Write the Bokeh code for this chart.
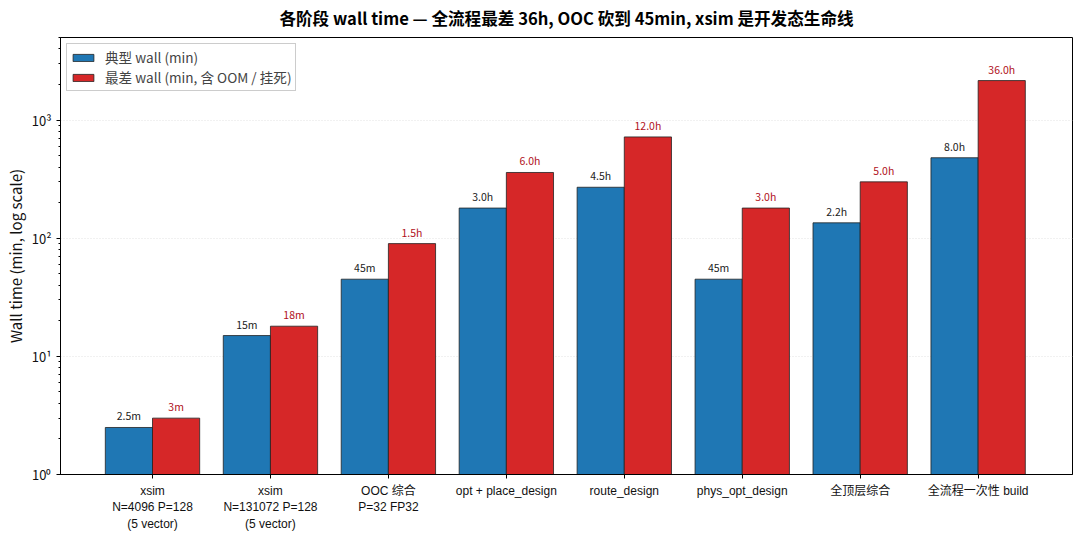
from bokeh.plotting import figure
from bokeh.models import ColumnDataSource, Range1d, FixedTicker, LogTicker, Legend, LegendItem
from bokeh.core.properties import value
from bokeh.embed import file_html
from bokeh.resources import INLINE

categories = ["xsim\nN=4096 P=128\n(5 vector)", "xsim\nN=131072 P=128\n(5 vector)",
              "OOC 综合\nP=32 FP32", "opt + place_design", "route_design",
              "phys_opt_design", "全顶层综合", "全流程一次性 build"]
typical = [2.5, 15, 45, 180, 270, 45, 135, 480]
worst = [3, 18, 90, 360, 720, 180, 300, 2160]
typical_labels = ["2.5m", "15m", "45m", "3.0h", "4.5h", "45m", "2.2h", "8.0h"]
worst_labels = ["3m", "18m", "1.5h", "6.0h", "12.0h", "3.0h", "5.0h", "36.0h"]

FONT = "Noto Sans CJK SC"
XFONT = "Liberation Sans, Noto Sans CJK SC"
n = len(categories)
xs = list(range(n))
w = 0.4

src_t = ColumnDataSource(dict(x=[i - w / 2 for i in xs], top=typical, lab=typical_labels))
src_w = ColumnDataSource(dict(x=[i + w / 2 for i in xs], top=worst, lab=worst_labels))

p = figure(width=1080, height=535, y_axis_type="log", output_backend="svg",
           toolbar_location=None, x_range=Range1d(-0.78, 7.8), y_range=Range1d(1, 5000),
           min_border_left=60, min_border_right=8, min_border_top=36, min_border_bottom=61)
p.title.text = "各阶段 wall time — 全流程最差 36h, OOC 砍到 45min, xsim 是开发态生命线"
p.title.align = "center"
p.title.text_font = FONT
p.title.text_font_size = "16.6px"
p.title.text_font_style = "bold"
p.title.text_color = "black"
p.title.standoff = 11
p.title.vertical_align = "top"

r1 = p.vbar(x="x", top="top", bottom=1, width=w, source=src_t, fill_color="#1f77b4",
            line_color="#222222", line_width=0.8)
r2 = p.vbar(x="x", top="top", bottom=1, width=w, source=src_w, fill_color="#d62728",
            line_color="#222222", line_width=0.8)

p.text(x="x", y="top", text="lab", source=src_t, text_align="center", text_baseline="bottom",
       y_offset=-4, text_font=value(FONT), text_font_size="10.5px", text_color="#222222")
p.text(x="x", y="top", text="lab", source=src_w, text_align="center", text_baseline="bottom",
       y_offset=-4, text_font=value(FONT), text_font_size="10.5px", text_color="#b0101a")

legend = Legend(items=[LegendItem(label="典型 wall (min)", renderers=[r1]),
                       LegendItem(label="最差 wall (min, 含 OOM / 挂死)", renderers=[r2])],
                location="top_left")
legend.label_text_font = FONT
legend.label_text_font_size = "13.6px"
legend.glyph_width = 26
legend.glyph_height = 9
legend.spacing = 0
legend.padding = 3
legend.margin = 6
legend.label_height = 14
legend.label_standoff = 9
legend.border_line_color = "#cccccc"
legend.border_line_alpha = 1
legend.background_fill_alpha = 0.9
p.add_layout(legend)

p.xaxis.ticker = FixedTicker(ticks=xs)
p.xaxis.major_label_overrides = {i: c for i, c in enumerate(categories)}
p.xaxis.major_label_text_font = XFONT
p.xaxis.major_label_text_font_size = "12px"
p.xaxis.major_label_text_color = "#111111"
p.xaxis.minor_tick_line_color = None
p.xaxis.major_tick_out = 4
p.xaxis.major_tick_in = 0
p.xaxis.axis_line_color = "black"

p.yaxis.ticker = LogTicker(desired_num_ticks=4, num_minor_ticks=10)
p.yaxis.major_label_overrides = {1: "10⁰", 10: "10¹", 100: "10²", 1000: "10³"}
p.yaxis.major_label_text_font = FONT
p.yaxis.major_label_text_font_size = "13px"
p.yaxis.major_label_text_color = "#111111"
p.yaxis.axis_label = "Wall time (min, log scale)"
p.yaxis.axis_label_text_font = FONT
p.yaxis.axis_label_text_font_size = "15px"
p.yaxis.axis_label_text_font_style = "normal"
p.yaxis.axis_label_text_color = "#111111"
p.yaxis.axis_label_standoff = 3
p.yaxis.major_tick_out = 4
p.yaxis.major_tick_in = 0
p.yaxis.minor_tick_out = 2
p.yaxis.minor_tick_in = 0
p.yaxis.axis_line_color = "black"

p.xgrid.grid_line_color = None
p.ygrid.grid_line_color = "#dddddd"
p.ygrid.grid_line_dash = "1 2"
p.ygrid.grid_line_alpha = 0.8
p.outline_line_color = "black"
p.outline_line_alpha = 1

open("out.html", "w").write(file_html(p, INLINE))
